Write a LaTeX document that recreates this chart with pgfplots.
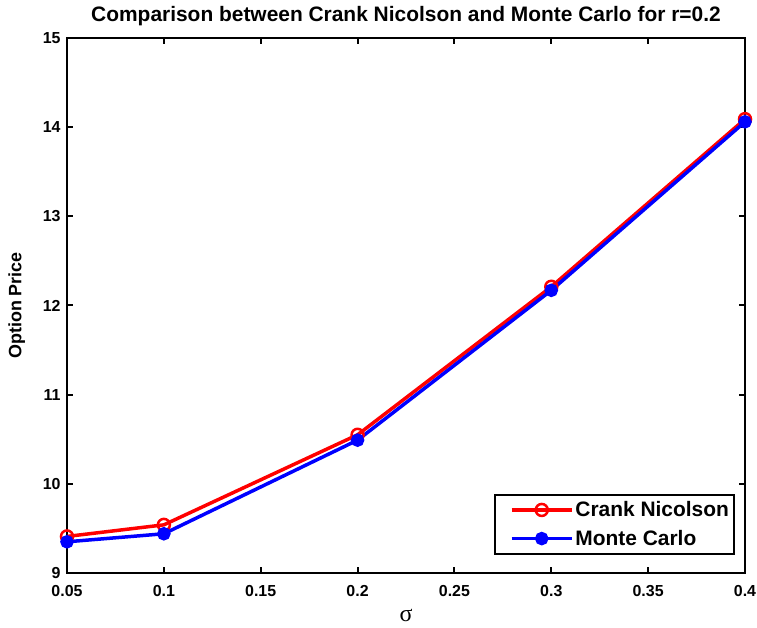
\documentclass[border=0pt]{standalone}
\usepackage{fontspec}
\setmainfont{Liberation Sans}
\newfontfamily\symfont{Liberation Serif}
\usepackage{pgfplots}
\pgfplotsset{compat=1.18}
\begin{document}
\begin{tikzpicture}[x=1bp,y=1bp]
\begin{axis}[
  scale only axis,
  width=678bp, height=535bp,
  xmin=0.05, xmax=0.4, ymin=9, ymax=15,
  xtick={0.05,0.1,...,0.4},
  ytick={9,10,...,15},
  xticklabels={0.05,0.1,0.15,0.2,0.25,0.3,0.35,0.4},
  tick align=inside,
  major tick length=6bp,
  axis line style={line width=2.2bp},
  every tick/.style={black,line width=2bp},
  tick label style={font=\fontsize{16}{18}\selectfont\bfseries},
  xticklabel style={yshift=-9bp},
  yticklabel style={xshift=-3bp},
  /pgf/number format/assume math mode=true,
  title={\fontsize{21}{24}\selectfont\bfseries Comparison between Crank Nicolson and Monte Carlo for r=0.2},
  title style={at={(axis description cs:0.5,1.030)},anchor=center},
  xlabel={\fontsize{24}{26}\selectfont\symfont σ},
  xlabel style={at={(axis description cs:0.5,-0.080)},anchor=center,inner sep=0pt},
  ylabel={\fontsize{18}{20}\selectfont\bfseries Option Price},
  ylabel style={at={(axis description cs:-0.074,0.5)},anchor=center,rotate=0},
  legend style={at={(0.985,0.034)},anchor=south east,draw=black,line width=1.8bp,
    font=\fontsize{21}{25}\selectfont\bfseries,inner xsep=3bp,inner ysep=5bp,row sep=8bp},
  legend cell align=left,
  legend image code/.code={%
    \path (0bp,0bp);
    \draw[mark repeat=2,mark phase=2,#1] plot coordinates {(12bp,0bp) (42bp,0bp) (72bp,0bp)};},
]
\addplot[red, line width=3.5bp, mark=o, mark size=6bp, mark options={line width=2.5bp}]
  coordinates {(0.05,9.41) (0.1,9.54) (0.2,10.55) (0.3,12.21) (0.4,14.09)};
\addplot[blue, line width=3.5bp, mark=*, mark size=5bp]
  coordinates {(0.05,9.35) (0.1,9.44) (0.2,10.49) (0.3,12.17) (0.4,14.06)};
\legend{Crank Nicolson, Monte Carlo}
\end{axis}
\pgfresetboundingbox
\path[use as bounding box] (-67bp,-55bp) rectangle (690bp,573bp);
\end{tikzpicture}
\end{document}
